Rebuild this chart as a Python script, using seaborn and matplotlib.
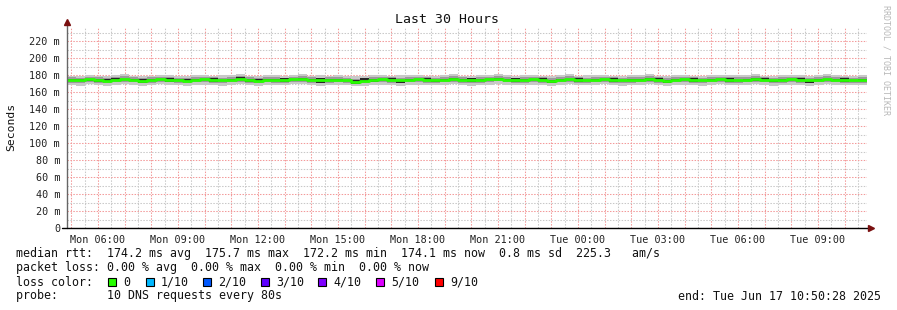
import numpy as np
import pandas as pd
import matplotlib
matplotlib.use("Agg")
import matplotlib.pyplot as plt
from matplotlib.patches import Rectangle
import seaborn as sns

# ---------------- data ----------------
# 30 hours ending Tue 10:50:28 -> start Mon 04:50:28 (hours since Mon 00:00)
start_hour = 4 + 50 / 60 + 28 / 3600
bin_minutes = 20

median_ms = [
    174.3, 173.6, 174.8, 174.1, 173.2, 174.6, 175.1, 174.4, 173.5, 174.2, 175.0, 174.7, 173.9, 173.4, 174.5,
    174.9, 174.1, 173.6, 174.4, 175.2, 174.0, 173.3, 174.6, 174.2, 173.8, 174.9, 175.4, 174.3, 173.7, 174.1,
    174.6, 173.9, 172.2, 173.5, 174.4, 174.8, 174.0, 173.6, 174.5, 175.0, 174.3, 173.8, 174.6, 175.3, 174.1,
    173.7, 174.2, 174.9, 175.7, 174.5, 173.9, 174.3, 174.8, 174.0, 173.4, 174.6, 175.1, 174.2, 173.8, 174.4,
    174.9, 174.3, 173.6, 174.1, 174.7, 175.2, 174.0, 173.5, 174.4, 174.8, 174.1, 173.7, 174.5, 175.0, 174.2,
    173.9, 174.6, 175.3, 174.4, 173.8, 174.2, 174.9, 174.3, 173.6, 174.5, 175.1, 174.7, 174.0, 173.8, 174.1,
]
smoke_outer_hi = [
    179.3, 179.1, 180.4, 178.8, 179.0, 179.6, 180.8, 179.1, 179.4, 179.0, 180.3, 179.8, 178.7, 179.2, 179.5,
    180.6, 179.0, 179.5, 180.1, 180.9, 178.8, 179.1, 180.0, 180.3, 178.7, 179.8, 181.1, 179.4, 179.6, 179.1,
    180.1, 179.4, 178.3, 179.1, 179.8, 180.5, 179.0, 179.7, 180.1, 180.6, 179.1, 179.3, 180.0, 181.0, 179.2,
    179.1, 179.8, 180.2, 181.4, 179.6, 179.0, 180.1, 180.4, 178.9, 179.1, 180.2, 180.7, 179.3, 179.6, 179.8,
    180.5, 179.2, 179.1, 179.7, 180.2, 181.0, 179.0, 178.8, 179.9, 180.3, 179.1, 179.4, 180.0, 180.6, 179.5,
    179.6, 180.1, 180.9, 179.4, 179.1, 179.9, 180.5, 179.7, 179.0, 180.1, 180.8, 180.0, 179.1, 179.4, 179.7,
]
smoke_outer_lo = [
    168.7, 167.6, 169.0, 168.3, 167.1, 168.8, 169.3, 168.4, 167.4, 168.6, 169.1, 168.7, 167.9, 167.3, 168.5,
    168.8, 168.1, 167.4, 168.6, 169.2, 167.9, 167.2, 168.4, 168.5, 167.7, 168.9, 169.1, 168.3, 167.5, 168.2,
    168.5, 168.0, 166.7, 167.4, 168.4, 168.7, 167.8, 167.5, 168.6, 168.8, 168.1, 167.7, 168.5, 169.2, 168.0,
    167.6, 168.3, 168.8, 169.4, 168.2, 167.8, 168.4, 168.7, 167.9, 167.3, 168.6, 169.0, 168.1, 167.7, 168.3,
    168.9, 168.2, 167.4, 168.0, 168.7, 169.1, 167.9, 167.4, 168.4, 168.8, 168.1, 167.5, 168.5, 168.9, 168.1,
    167.8, 168.5, 169.3, 168.2, 167.6, 168.2, 168.8, 168.3, 167.4, 168.4, 169.1, 168.6, 167.9, 167.7, 168.1,
]
smoke_mid_hi = [
    177.4, 176.8, 178.0, 177.1, 176.4, 177.7, 178.4, 177.3, 176.7, 177.3, 178.2, 177.9, 177.0, 176.6, 177.6,
    178.1, 177.2, 176.8, 177.7, 178.4, 177.1, 176.5, 177.8, 177.4, 176.8, 178.0, 178.6, 177.4, 176.9, 177.2,
    177.8, 177.0, 175.5, 176.7, 177.6, 178.0, 177.2, 176.8, 177.7, 178.2, 177.3, 176.9, 177.8, 178.5, 177.2,
    176.8, 177.4, 178.1, 178.9, 177.7, 177.0, 177.5, 178.0, 177.1, 176.6, 177.8, 178.3, 177.3, 177.0, 177.6,
    178.1, 177.4, 176.8, 177.3, 177.9, 178.4, 177.1, 176.7, 177.6, 178.0, 177.2, 176.9, 177.7, 178.2, 177.4,
    177.1, 177.8, 178.5, 177.6, 177.0, 177.4, 178.1, 177.5, 176.8, 177.7, 178.3, 177.9, 177.1, 177.0, 177.3,
]
smoke_mid_lo = [
    171.1, 170.5, 171.5, 170.9, 170.1, 171.3, 171.9, 171.2, 170.3, 171.0, 171.8, 171.4, 170.7, 170.3, 171.3,
    171.6, 170.9, 170.4, 171.2, 172.0, 170.7, 170.1, 171.3, 171.0, 170.6, 171.7, 172.1, 171.1, 170.5, 170.9,
    171.3, 170.7, 169.0, 170.2, 171.2, 171.6, 170.8, 170.4, 171.3, 171.8, 171.1, 170.6, 171.4, 172.1, 170.9,
    170.5, 171.0, 171.7, 172.5, 171.3, 170.7, 171.1, 171.6, 170.8, 170.2, 171.4, 171.9, 171.0, 170.6, 171.2,
    171.7, 171.1, 170.4, 170.9, 171.5, 172.0, 170.8, 170.3, 171.2, 171.6, 170.9, 170.5, 171.3, 171.8, 171.0,
    170.7, 171.4, 172.1, 171.2, 170.6, 171.0, 171.7, 171.1, 170.4, 171.3, 171.9, 171.5, 170.8, 170.6, 170.9,
]
smoke_core_hi = [
    175.2, 175.9, 175.6, 174.9, 175.4, 176.8, 175.8, 175.1, 175.9, 175.0, 175.7, 176.9, 174.8, 175.6, 175.2,
    175.6, 176.4, 174.4, 175.2, 177.4, 174.8, 175.8, 175.3, 174.9, 176.2, 175.6, 176.1, 175.0, 176.0, 174.9,
    175.4, 174.7, 174.6, 176.0, 175.2, 175.6, 176.5, 174.4, 175.3, 175.8, 176.8, 174.6, 175.4, 176.0, 174.9,
    176.2, 175.0, 175.7, 176.4, 175.3, 176.4, 175.1, 175.6, 176.5, 174.3, 175.4, 175.9, 176.6, 174.6, 175.2,
    175.7, 176.7, 174.4, 174.9, 175.5, 176.0, 176.5, 174.3, 175.2, 175.6, 176.6, 174.5, 175.3, 175.8, 176.7,
    174.7, 175.4, 176.1, 176.8, 174.6, 175.0, 175.7, 176.7, 174.4, 175.3, 175.9, 175.5, 176.4, 174.6, 174.9,
]
smoke_core_lo = [
    173.6, 172.9, 173.0, 171.6, 172.5, 173.9, 174.4, 173.7, 171.0, 173.5, 174.3, 172.1, 173.2, 172.7, 173.8,
    174.2, 171.6, 172.9, 173.7, 174.5, 171.5, 172.6, 173.9, 173.5, 171.3, 174.2, 174.7, 173.6, 171.1, 173.4,
    173.9, 173.2, 170.0, 172.8, 171.9, 174.1, 173.3, 171.0, 173.8, 174.3, 173.6, 171.3, 173.9, 174.6, 173.4,
    171.2, 173.5, 174.2, 175.0, 173.8, 171.3, 173.6, 174.1, 173.3, 170.9, 173.9, 174.4, 171.6, 173.1, 173.7,
    174.2, 171.7, 172.9, 173.4, 174.0, 172.6, 173.3, 170.9, 173.7, 174.1, 171.6, 173.0, 173.8, 174.3, 171.7,
    173.2, 173.9, 172.8, 173.7, 171.3, 173.5, 174.2, 173.6, 170.9, 173.8, 174.4, 174.0, 171.5, 173.1, 173.4,
]

y_ticks = [0, 20, 40, 60, 80, 100, 120, 140, 160, 180, 200, 220]
y_labels = ["0"] + [f"{v} m" for v in y_ticks[1:]]
loss_labels = ["0", "1/10", "2/10", "3/10", "4/10", "5/10", "9/10"]
loss_colors = ["#26ff00", "#00b8ff", "#0059ff", "#5e00ff", "#7e00ff", "#dd00ff", "#ff0000"]
stats_line = "median rtt:  174.2 ms avg  175.7 ms max  172.2 ms min  174.1 ms now  0.8 ms sd  225.3   am/s"
loss_line = "packet loss: 0.00 % avg  0.00 % max  0.00 % min  0.00 % now"
probe_line = "probe:       10 DNS requests every 80s"
end_line = "end: Tue Jun 17 10:50:28 2025"

# ---------------- frame ----------------
n = len(median_ms)
edges = start_hour + np.arange(n + 1) * bin_minutes / 60.0


def ext(a):
    a = list(a)
    return np.array(a + [a[-1]])


df = pd.DataFrame({"t": edges, "median": ext(median_ms)})

sns.set_style("white")
mono = "DejaVu Sans Mono"
plt.rcParams["font.family"] = [mono, "DejaVu Sans"]

W, H = 897, 310
fig = plt.figure(figsize=(W / 100, H / 100), dpi=100)
fig.patch.set_facecolor("white")
ax = fig.add_axes([67 / W, 82 / H, 800 / W, 201 / H])
ax.set_facecolor("white")

x_end = start_hour + 30
ax.set_xlim(start_hour, x_end)
ax.set_ylim(0, 236.5)

# grid
dots = (0, (1.4, 1.4))
ax.set_yticks(y_ticks)
ax.set_yticks(np.arange(10, 240, 20), minor=True)
major_h = np.arange(5, 35)
ax.set_xticks(major_h)
ax.set_xticks(np.arange(5.5, 35, 1.0), minor=True)
ax.grid(which="minor", color="#c8c8c8", linestyle=dots, linewidth=0.75)
ax.grid(which="major", color="#f39a9a", linestyle=dots, linewidth=0.75)
ax.set_axisbelow(True)

# smoke
ax.fill_between(edges, ext(smoke_outer_lo), ext(smoke_outer_hi), step="post",
                color="#c8c8c8", linewidth=0, zorder=2)
ax.fill_between(edges, ext(smoke_mid_lo), ext(smoke_mid_hi), step="post",
                color="#9a9a9a", linewidth=0, zorder=3)
ax.fill_between(edges, ext(smoke_core_lo), ext(smoke_core_hi), step="post",
                color="#262626", linewidth=0, zorder=4)

# median line (loss colour 0)
sns.lineplot(data=df, x="t", y="median", ax=ax, color=loss_colors[0],
             linewidth=2.0, drawstyle="steps-post", estimator=None, zorder=5)
ax.set_xlabel("")
ax.set_ylabel("")

# tick labels
ax.set_yticklabels(y_labels, fontsize=7.3, color="#222222", family=mono)
xl = []
for h in major_h:
    if h % 3 == 0:
        day = "Mon" if h < 24 else "Tue"
        xl.append(f"{day} {h % 24:02d}:00")
    else:
        xl.append("")
ax.set_xticklabels(xl, fontsize=7.3, color="#222222", family=mono)
ax.tick_params(axis="both", which="both", direction="out", length=2,
               width=0.7, color="#555555", pad=2)
ax.tick_params(axis="y", which="major", pad=3)
ax.tick_params(axis="x", which="major", pad=3)

for s in ["top", "right", "left", "bottom"]:
    ax.spines[s].set_visible(False)

# axis lines with arrows
ax.plot([0, 0], [0, 1.025], transform=ax.transAxes, color="#666666",
        linewidth=1.0, clip_on=False, zorder=6)
ax.plot([-0.006, 1.004], [0, 0], transform=ax.transAxes, color="#000000",
        linewidth=1.0, clip_on=False, zorder=6)
ax.plot([0], [1.027], marker="^", markersize=4.5, color="#7a1010",
        transform=ax.transAxes, clip_on=False, zorder=7)
ax.plot([1.005], [0], marker=">", markersize=4.5, color="#7a1010",
        transform=ax.transAxes, clip_on=False, zorder=7)


def fx(px):
    return px / W


def fy(py):
    return 1 - py / H


fig.text(fx(447), fy(19.5), "Last 30 Hours", ha="center", va="center",
         fontsize=9.5, family=mono, color="#111111")
fig.text(fx(11), fy(127), "Seconds", ha="center", va="center", rotation=90,
         fontsize=8.2, family=mono, color="#111111")
fig.text(fx(886), fy(60), "RRDTOOL / TOBI OETIKER", ha="center", va="center",
         rotation=270, fontsize=6, family=mono, color="#b8b8b8")

fs = 8.4
fig.text(fx(16), fy(254), stats_line, ha="left", va="center", fontsize=fs,
         family=mono, color="#111111")
fig.text(fx(16), fy(268), loss_line, ha="left", va="center", fontsize=fs,
         family=mono, color="#111111")
fig.text(fx(16), fy(282), "loss color:", ha="left", va="center", fontsize=fs,
         family=mono, color="#111111")
fig.text(fx(16), fy(296), probe_line, ha="left", va="center", fontsize=fs,
         family=mono, color="#111111")
fig.text(fx(881), fy(296), end_line, ha="right", va="center", fontsize=fs,
         family=mono, color="#111111")

sq_x = [108, 146, 203, 261, 318, 376, 435]
for xp, lab, col in zip(sq_x, loss_labels, loss_colors):
    fig.patches.append(Rectangle((fx(xp), fy(286)), 8 / W, 8 / H,
                                 transform=fig.transFigure, facecolor=col,
                                 edgecolor="#000000", linewidth=0.8))
    fig.text(fx(xp + 15), fy(282), lab, ha="left", va="center", fontsize=fs,
             family=mono, color="#111111")

fig.savefig("out.png", dpi=100, facecolor="white")
